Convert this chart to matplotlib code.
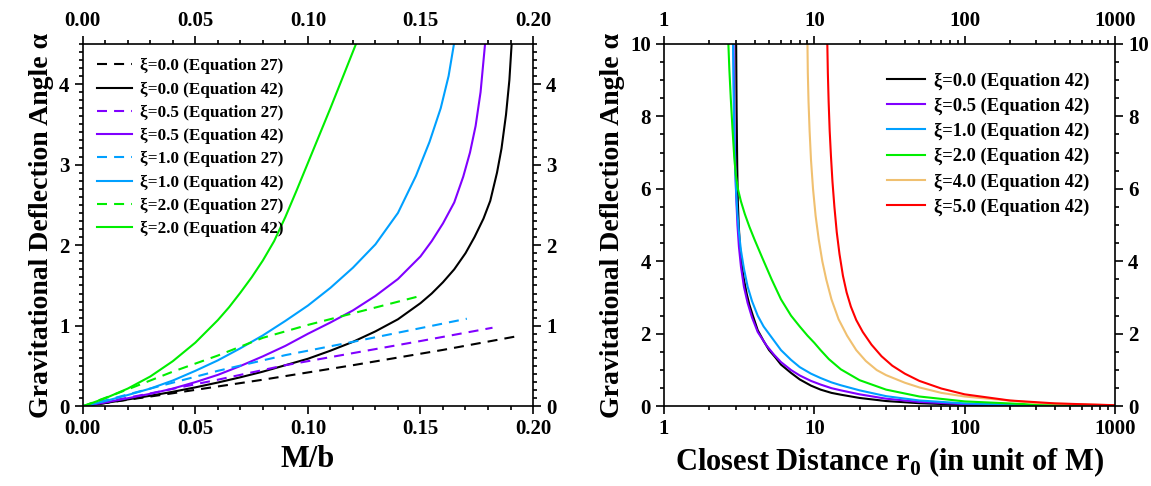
import numpy as np
import matplotlib
matplotlib.use("Agg")
import matplotlib.pyplot as plt
from matplotlib.ticker import MultipleLocator, FixedLocator, NullFormatter, LogLocator

plt.rcParams['font.family'] = ['Liberation Serif', 'DejaVu Serif']
plt.rcParams['font.weight'] = 'bold'
plt.rcParams['mathtext.fontset'] = 'custom'
plt.rcParams['mathtext.rm'] = 'Liberation Serif:bold'
plt.rcParams['mathtext.bf'] = 'Liberation Serif:bold'

# ---- left panel: alpha vs M/b ----
# Equation 27 (dashed)
mb27_x0 = [0, 0.04, 0.08, 0.12, 0.16, 0.193]
a27_x0 = [0, 0.162, 0.33, 0.51, 0.70, 0.87]
mb27_x05 = [0, 0.03, 0.06, 0.09, 0.12, 0.15, 0.182]
a27_x05 = [0, 0.16, 0.33, 0.51, 0.66, 0.81, 0.975]
mb27_x1 = [0, 0.03, 0.06, 0.09, 0.12, 0.15, 0.1706]
a27_x1 = [0, 0.22, 0.44, 0.635, 0.80, 0.97, 1.087]
mb27_x2 = [0, 0.02, 0.04, 0.06, 0.08, 0.10, 0.125, 0.149]
a27_x2 = [0, 0.21, 0.43, 0.63, 0.85, 1.01, 1.19, 1.363]

# Equation 42 (solid)
mb42_x0 = [0, 0.01, 0.02, 0.03, 0.04, 0.05, 0.06, 0.07, 0.08, 0.09, 0.10, 0.11, 0.12,
           0.13, 0.14, 0.15, 0.155, 0.16, 0.165, 0.17, 0.174, 0.178, 0.181, 0.184,
           0.186, 0.188, 0.1895, 0.1905]
a42_x0 = [0, 0.041, 0.085, 0.131, 0.18, 0.235, 0.295, 0.36, 0.43, 0.51, 0.59, 0.69, 0.80,
          0.93, 1.08, 1.28, 1.40, 1.54, 1.70, 1.90, 2.10, 2.33, 2.55, 2.90,
          3.20, 3.62, 4.05, 4.5]
mb42_x05 = [0, 0.01, 0.02, 0.03, 0.04, 0.05, 0.06, 0.07, 0.08, 0.09, 0.10, 0.11, 0.12,
            0.13, 0.14, 0.15, 0.155, 0.16, 0.165, 0.169, 0.172, 0.1745, 0.1767, 0.1787]
a42_x05 = [0, 0.048, 0.10, 0.155, 0.22, 0.30, 0.39, 0.50, 0.62, 0.75, 0.90, 1.04, 1.19,
           1.37, 1.58, 1.86, 2.05, 2.27, 2.53, 2.85, 3.15, 3.48, 3.90, 4.5]
mb42_x1 = [0, 0.01, 0.02, 0.03, 0.04, 0.05, 0.06, 0.07, 0.08, 0.09, 0.10, 0.11, 0.12,
           0.13, 0.14, 0.148, 0.154, 0.159, 0.1625, 0.1649]
a42_x1 = [0, 0.065, 0.14, 0.22, 0.32, 0.44, 0.57, 0.72, 0.88, 1.06, 1.25, 1.47, 1.72,
          2.01, 2.40, 2.86, 3.28, 3.70, 4.10, 4.5]
mb42_x2 = [0, 0.01, 0.02, 0.03, 0.04, 0.05, 0.06, 0.065, 0.07, 0.075, 0.08, 0.085, 0.09,
           0.095, 0.10, 0.105, 0.11, 0.115, 0.1214]
a42_x2 = [0, 0.10, 0.22, 0.37, 0.56, 0.79, 1.07, 1.23, 1.41, 1.60, 1.81, 2.05, 2.35,
          2.68, 3.02, 3.36, 3.70, 4.05, 4.5]

# ---- right panel: alpha vs r0 ----
r_x0 = [3.02, 3.04, 3.07, 3.1, 3.15, 3.2, 3.3, 3.4, 3.55, 3.7, 3.9, 4.2, 4.6, 5, 5.5, 6, 7, 8,
        9.5, 11, 13, 15, 20, 30, 50, 100, 300, 1000]
ar_x0 = [10, 8.2, 6.6, 5.6, 4.9, 4.4, 3.85, 3.5, 3.1, 2.8, 2.5, 2.1, 1.8, 1.55, 1.35, 1.15, 0.92,
         0.74, 0.57, 0.46, 0.37, 0.32, 0.23, 0.145, 0.085, 0.042, 0.014, 0.004]
r_x05 = [2.9, 2.92, 2.95, 2.98, 3.02, 3.08, 3.15, 3.25, 3.4, 3.6, 3.85, 4.2, 4.8, 5.4, 6, 7,
         8, 9.5, 11, 13, 15, 20, 30, 50, 100, 300, 1000]
ar_x05 = [10, 8.8, 7.4, 6.6, 5.8, 5.0, 4.4, 3.85, 3.3, 2.85, 2.45, 2.05, 1.68, 1.42, 1.22, 1.0,
          0.85, 0.7, 0.6, 0.5, 0.44, 0.33, 0.21, 0.12, 0.06, 0.02, 0.006]
r_x1 = [2.88, 2.9, 2.93, 2.97, 3.02, 3.08, 3.15, 3.25, 3.4, 3.6, 3.85, 4.2, 4.6, 5.2, 6, 7,
        8, 9.5, 11, 13, 15, 20, 30, 50, 100, 300, 1000]
ar_x1 = [10, 8.8, 7.5, 6.6, 5.9, 5.3, 4.8, 4.3, 3.8, 3.3, 2.9, 2.5, 2.2, 1.9, 1.55, 1.28,
         1.08, 0.9, 0.78, 0.66, 0.58, 0.44, 0.28, 0.16, 0.08, 0.027, 0.008]
r_x2 = [2.68, 2.72, 2.78, 2.85, 2.93, 3.0, 3.1, 3.25, 3.45, 3.7, 4.0, 4.5, 5.2, 6, 7, 8, 9,
        10, 11, 12.5, 15, 20, 30, 50, 100, 300, 1000]
ar_x2 = [10, 9.3, 8.5, 7.7, 6.9, 6.4, 6.0, 5.65, 5.3, 4.95, 4.6, 4.1, 3.5, 2.95, 2.5, 2.2, 1.95,
         1.75, 1.55, 1.3, 1.02, 0.72, 0.46, 0.27, 0.135, 0.045, 0.013]
r_x4 = [9.0, 9.05, 9.15, 9.3, 9.5, 9.8, 10.2, 10.7, 11.3, 12, 13, 14.5, 16.5, 19, 22, 26, 30,
        40, 50, 70, 100, 300, 1000]
ar_x4 = [10, 9.2, 8.4, 7.6, 6.8, 6.0, 5.25, 4.6, 4.0, 3.5, 2.95, 2.4, 1.95, 1.55, 1.25, 1.0, 0.86,
         0.65, 0.52, 0.37, 0.27, 0.09, 0.027]
r_x5 = [12.2, 12.3, 12.45, 12.65, 12.9, 13.2, 13.6, 14.1, 14.7, 15.5, 16.4, 17.5, 19, 21, 24,
        28, 33, 40, 50, 70, 100, 200, 400, 1000]
ar_x5 = [10, 9.2, 8.4, 7.6, 6.9, 6.2, 5.5, 4.8, 4.2, 3.6, 3.14, 2.75, 2.38, 2.05, 1.7,
         1.38, 1.12, 0.9, 0.7, 0.49, 0.33, 0.16, 0.08, 0.03]

c_black = 'black'
c_purple = '#8000ff'
c_cyan = '#00a0ff'
c_green = '#00ee00'
c_orange = '#f0c070'
c_red = '#ff0000'

lw = 1.5
dash = (0, (4.8, 3.4))

fig = plt.figure(figsize=(11.51, 4.86), dpi=100)
ax1 = fig.add_axes([0.0719, 0.164, 0.3912, 0.746])
ax2 = fig.add_axes([0.5769, 0.164, 0.3918, 0.746])

ax1.plot(mb27_x0, a27_x0, color=c_black, ls=dash, lw=lw, label='ξ=0.0 (Equation 27)')
ax1.plot(mb42_x0, a42_x0, color=c_black, lw=lw, label='ξ=0.0 (Equation 42)')
ax1.plot(mb27_x05, a27_x05, color=c_purple, ls=dash, lw=lw, label='ξ=0.5 (Equation 27)')
ax1.plot(mb42_x05, a42_x05, color=c_purple, lw=lw, label='ξ=0.5 (Equation 42)')
ax1.plot(mb27_x1, a27_x1, color=c_cyan, ls=dash, lw=lw, label='ξ=1.0 (Equation 27)')
ax1.plot(mb42_x1, a42_x1, color=c_cyan, lw=lw, label='ξ=1.0 (Equation 42)')
ax1.plot(mb27_x2, a27_x2, color=c_green, ls=dash, lw=lw, label='ξ=2.0 (Equation 27)')
ax1.plot(mb42_x2, a42_x2, color=c_green, lw=lw, label='ξ=2.0 (Equation 42)')

ax1.set_xlim(0, 0.2)
ax1.set_ylim(0, 4.5)
ax1.xaxis.set_major_locator(MultipleLocator(0.05))
ax1.xaxis.set_minor_locator(MultipleLocator(0.01))
ax1.yaxis.set_major_locator(MultipleLocator(1))
ax1.yaxis.set_minor_locator(MultipleLocator(0.1))
ax1.xaxis.set_major_formatter(plt.FormatStrFormatter('%.2f'))
ax1.set_xlabel('M/b', fontsize=22, fontweight='bold')
ax1.set_ylabel('Gravitational Deflection Angle α', fontsize=20, fontweight='bold')
ax1.legend(loc='upper left', bbox_to_anchor=(0.0, 1.0), frameon=False, fontsize=12.3,
           handlelength=2.05, handletextpad=0.45, labelspacing=0.42, borderaxespad=0.45)

ax2.plot(r_x0, ar_x0, color=c_black, lw=lw, label='ξ=0.0 (Equation 42)')
ax2.plot(r_x05, ar_x05, color=c_purple, lw=lw, label='ξ=0.5 (Equation 42)')
ax2.plot(r_x1, ar_x1, color=c_cyan, lw=lw, label='ξ=1.0 (Equation 42)')
ax2.plot(r_x2, ar_x2, color=c_green, lw=lw, label='ξ=2.0 (Equation 42)')
ax2.plot(r_x4, ar_x4, color=c_orange, lw=lw, label='ξ=4.0 (Equation 42)')
ax2.plot(r_x5, ar_x5, color=c_red, lw=lw, label='ξ=5.0 (Equation 42)')

ax2.set_xscale('log')
ax2.set_xlim(1, 1000)
ax2.set_ylim(0, 10)
ax2.xaxis.set_major_locator(FixedLocator([1, 10, 100, 1000]))
ax2.xaxis.set_minor_locator(LogLocator(base=10, subs=np.arange(2, 10)))
ax2.xaxis.set_minor_formatter(NullFormatter())
ax2.set_xticklabels(['1', '10', '100', '1000'])
ax2.yaxis.set_major_locator(MultipleLocator(2))
ax2.yaxis.set_minor_locator(MultipleLocator(0.5))
ax2.set_xlabel(r'Closest Distance r$_{\mathbf{0}}$ (in unit of M)', fontsize=22, fontweight='bold')
ax2.set_ylabel('Gravitational Deflection Angle α', fontsize=20, fontweight='bold')
ax2.legend(loc='upper right', bbox_to_anchor=(0.98, 0.968), frameon=False, fontsize=13.3,
           handlelength=2.05, handletextpad=0.5, labelspacing=0.42)

for ax in (ax1, ax2):
    ax.tick_params(which='both', direction='out', top=True, right=True,
                   labeltop=True, labelright=True, labelsize=15, width=1.2)
    ax.tick_params(which='major', length=6)
    ax.tick_params(which='minor', length=3)
    for lab in ax.get_xticklabels() + ax.get_yticklabels():
        lab.set_fontweight('bold')
    for s in ax.spines.values():
        s.set_linewidth(1.2)

fig.savefig('out.png', dpi=100)
